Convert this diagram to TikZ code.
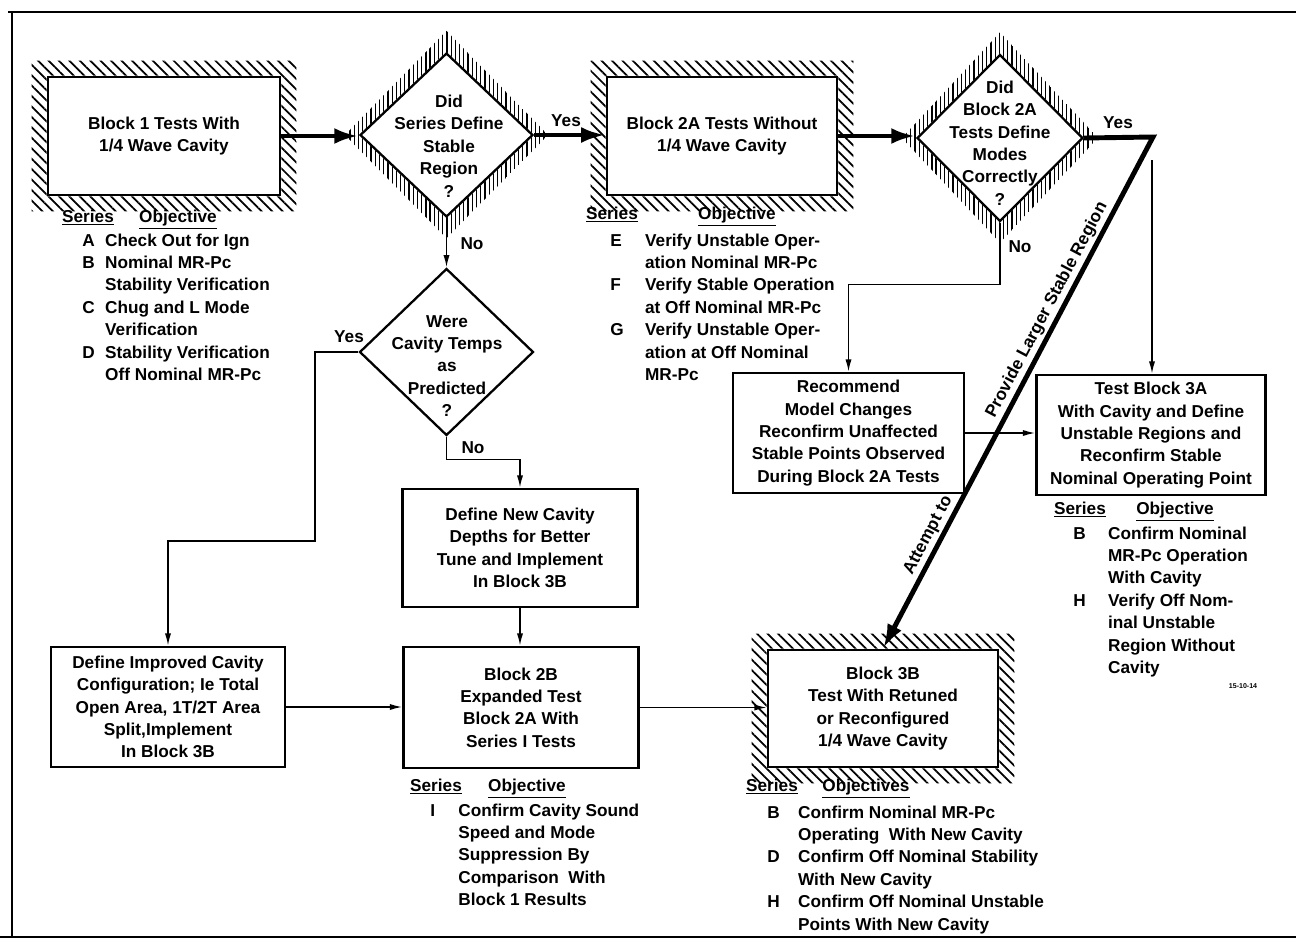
\documentclass[tikz,border=0pt]{standalone}
\usepackage{fontspec}
\setmainfont{Liberation Sans}
\usetikzlibrary{arrows.meta,patterns.meta,shapes.geometric}
\begin{document}
\begin{tikzpicture}[x=0.02cm,y=-0.02cm,
  font=\fontsize{9.8}{12.75}\selectfont\bfseries,
  box/.style={draw,line width=1.5pt,inner sep=0pt,align=center},
  dia/.style={draw,shape=diamond,line width=1.3pt,inner sep=0pt},
  txt/.style={align=center,inner sep=0pt},
  lbl/.style={inner sep=0pt},
  hdr/.style={inner sep=0pt,anchor=base},
  word/.style={sloped,above=1.5pt,inner sep=0pt,text height=7pt,text depth=2pt},
  thinarrow/.style={line width=0.85pt,-{Latex[length=7pt,width=3.5pt]}},
  heavy/.style={line width=2.8pt,line join=miter,-{Latex[length=14pt,width=9pt]}},
  hatchR/.style={pattern={Lines[angle=-45,distance=4.2pt,line width=1pt]},even odd rule},
  hatchD/.style={pattern={Lines[angle=90,distance=2.4pt,line width=0.7pt]},even odd rule},
  list/.style={anchor=base west,inner sep=0pt,align=left},
  frame/.style={line width=1.6pt},
]
\useasboundingbox (0,0) rectangle (1296,941);

% frame
\draw[frame] (8,12) -- (1296,12);
\draw[frame] (12,12) -- (12,937);
\draw[frame] (0,937) -- (1296,937);

% boxes
\node[box,minimum width=4.64cm,minimum height=2.36cm] (b1) at (164,136) {Block 1 Tests With\\1/4 Wave Cavity};
\path[hatchR] ([shift={(-15,-15)}]b1.north west) rectangle ([shift={(15,15)}]b1.south east) (b1.north west) rectangle (b1.south east);

\node[box,minimum width=4.6cm,minimum height=2.36cm] (b2a) at (722,136) {Block 2A Tests Without\\1/4 Wave Cavity};
\path[hatchR] ([shift={(-15,-15)}]b2a.north west) rectangle ([shift={(15,15)}]b2a.south east) (b2a.north west) rectangle (b2a.south east);

\node[box,minimum width=4.6cm,minimum height=2.34cm] (b3b) at (883,708.5) {Block 3B\\Test With Retuned\\or Reconfigured\\1/4 Wave Cavity};
\path[hatchR] ([shift={(-15,-15)}]b3b.north west) rectangle ([shift={(15,15)}]b3b.south east) (b3b.north west) rectangle (b3b.south east);

\node[box,minimum width=4.62cm,minimum height=2.4cm] (rec) at (848.5,433) {Recommend\\Model Changes\\Reconfirm Unaffected\\Stable Points Observed\\During Block 2A Tests};
\node[box,minimum width=4.58cm,minimum height=2.4cm] (t3a) at (1151,435) {Test Block 3A\\With Cavity and Define\\Unstable Regions and\\Reconfirm Stable\\Nominal Operating Point};
\node[box,minimum width=4.7cm,minimum height=2.36cm] (dnc) at (520,548) {Define New Cavity\\Depths for Better\\Tune and Implement\\In Block 3B};
\node[box,minimum width=4.7cm,minimum height=2.42cm] (b2b) at (521,707.5) {Block 2B\\Expanded Test\\Block 2A With\\Series I Tests};
\node[box,minimum width=4.68cm,minimum height=2.4cm] (dic) at (168,707) {Define Improved Cavity\\Configuration; Ie Total\\Open Area, 1T/2T Area\\Split,Implement\\In Block 3B};

% diamonds
\node[dia,minimum width=3.46cm,minimum height=3.28cm] (d1) at (446.5,135) {};
\path[hatchD] ([xshift=-0.28cm]d1.west) -- ([yshift=0.42cm]d1.north) -- ([xshift=0.28cm]d1.east) -- ([yshift=-0.4cm]d1.south) -- cycle (d1.west) -- (d1.north) -- (d1.east) -- (d1.south) -- cycle;
\node[txt] (d1t) at (449,146) {Did\\Series Define\\Stable\\Region\\?};

\node[dia,minimum width=3.32cm,minimum height=3.34cm] (d2) at (1000,138) {};
\path[hatchD] ([xshift=-0.28cm]d2.west) -- ([yshift=0.42cm]d2.north) -- ([xshift=0.28cm]d2.east) -- ([yshift=-0.4cm]d2.south) -- cycle (d2.west) -- (d2.north) -- (d2.east) -- (d2.south) -- cycle;
\node[txt] (d2t) at (1000,143) {Did\\Block 2A\\Tests Define\\Modes\\Correctly\\?};

\node[dia,minimum width=3.48cm,minimum height=3.34cm] (d3) at (446.5,352) {};
\node[txt] (d3t) at (447,366) {Were\\Cavity Temps\\as\\Predicted\\?};

% connectors
\draw[heavy] (b1.east) -- (b1.east -| d1.west);
\draw[heavy] (d1.east) -- (d1.east -| b2a.west);
\draw[heavy] (b2a.east) -- (b2a.east -| d2.west);
\coordinate (j1) at (1153,137);
\draw[heavy] (d2.east) -- (j1) --
  node[word,pos=0.504] (lp1) {Provide}
  node[word,pos=0.395] (lp2) {Larger}
  node[word,pos=0.295] (lp3) {Stable}
  node[word,pos=0.192] (lp4) {Region}
  node[word,pos=0.79] (la) {Attempt to} (b3b.north);
\coordinate (j2) at (1152,160);
\draw[thinarrow] (j2) -- (j2 |- t3a.north);
\draw[thinarrow] (d2.south) -- ++(0,62) -| (rec.north);
\draw[thinarrow] (rec.east) -- (rec.east -| t3a.west);
\draw[thinarrow] (d1.south) -- (d3.north);
\coordinate (w1) at (315,541);
\draw[thinarrow] (d3.west) -| (w1) -| (dic.north);
\draw[thinarrow] (d3.south) -- ++(0,23) -| (dnc.north);
\draw[thinarrow] (dnc.south) -- (dnc.south |- b2b.north);
\draw[thinarrow] (dic.east) -- (dic.east -| b2b.west);
\draw[thinarrow] (b2b.east) -- (b2b.east -| b3b.west);

% yes / no labels
\node[lbl] (y1) at (566,121) {Yes};
\node[lbl] (y2) at (1118,123) {Yes};
\node[lbl] (y3) at (349,337) {Yes};
\node[lbl] (n1) at (472,244) {No};
\node[lbl] (n2) at (1020,247) {No};
\node[lbl] (n3) at (473,448) {No};

% series / objective tables
\node[hdr] (s1) at (88,222) {\underline{Series}};
\node[hdr] (o1) at (178,222) {\underline{Objective}};
\node[list] (l1) at (82,246) {\begin{tabular}[t]{@{}p{13pt}@{}l@{}}A&Check Out for Ign\\B&Nominal MR-Pc\\&Stability Verification\\C&Chug and L Mode\\&Verification\\D&Stability Verification\\&Off Nominal MR-Pc\end{tabular}};

\node[hdr] (s2) at (612,219) {\underline{Series}};
\node[hdr] (o2) at (737,219) {\underline{Objective}};
\node[list] (l2) at (610,246) {\begin{tabular}[t]{@{}p{19.8pt}@{}l@{}}E&Verify Unstable Oper-\\&ation Nominal MR-Pc\\F&Verify Stable Operation\\&at Off Nominal MR-Pc\\G&Verify Unstable Oper-\\&ation at Off Nominal\\&MR-Pc\end{tabular}};

\node[hdr] (s3) at (1080,514) {\underline{Series}};
\node[hdr] (o3) at (1175,514) {\underline{Objective}};
\node[list] (l3) at (1073,539) {\begin{tabular}[t]{@{}p{19.8pt}@{}l@{}}B&Confirm Nominal\\&MR-Pc Operation\\&With Cavity\\H&Verify Off Nom-\\&inal Unstable\\&Region Without\\&Cavity\end{tabular}};

\node[hdr] (s4) at (436,791) {\underline{Series}};
\node[hdr] (o4) at (527,791) {\underline{Objective}};
\node[list] (l4) at (430,816) {\begin{tabular}[t]{@{}p{16pt}@{}l@{}}I&Confirm Cavity Sound\\&Speed and Mode\\&Suppression By\\&Comparison\ \ With\\&Block 1 Results\end{tabular}};

\node[hdr] (s5) at (772,791) {\underline{Series}};
\node[hdr] (o5) at (866,791) {\underline{Objectives}};
\node[list] (l5) at (767,818) {\begin{tabular}[t]{@{}p{17.5pt}@{}l@{}}B&Confirm Nominal MR-Pc\\&Operating\ \ With New Cavity\\D&Confirm Off Nominal Stability\\&With New Cavity\\H&Confirm Off Nominal Unstable\\&Points With New Cavity\end{tabular}};

\node[lbl,font=\fontsize{4}{5}\selectfont\bfseries] (tag) at (1243,686) {15-10-14};
\end{tikzpicture}
\end{document}
